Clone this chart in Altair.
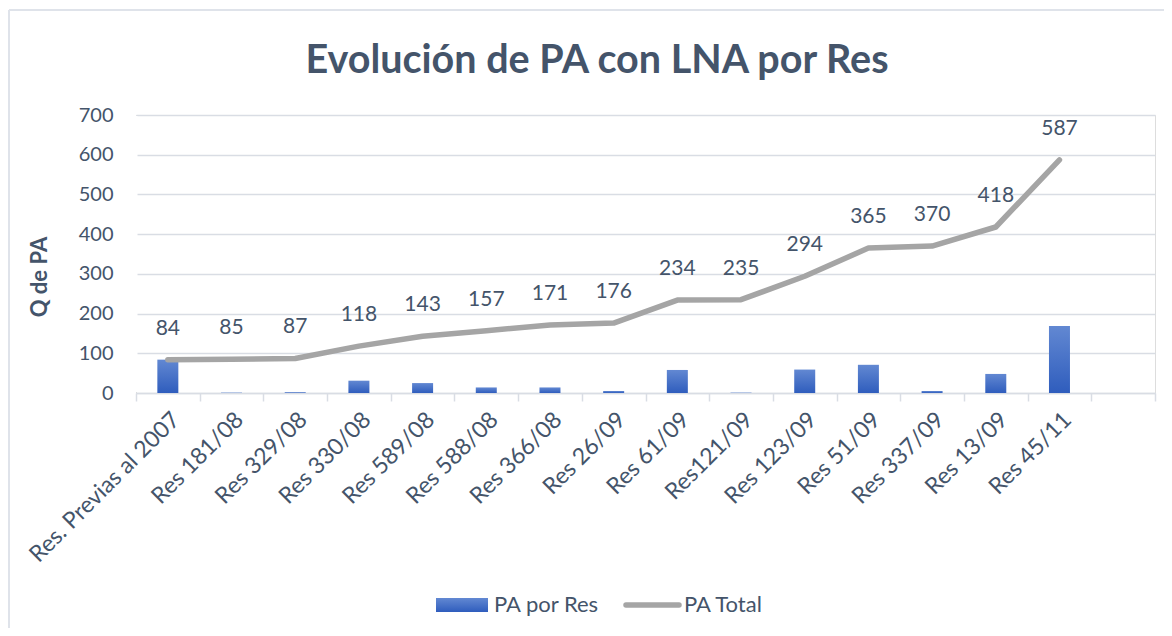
import altair as alt
import pandas as pd

categories = ["Res. Previas al 2007", "Res 181/08", "Res 329/08", "Res 330/08",
              "Res 589/08", "Res 588/08", "Res 366/08", "Res 26/09", "Res 61/09",
              "Res121/09", "Res 123/09", "Res 51/09", "Res 337/09", "Res 13/09",
              "Res 45/11"]
pa_por_res = [84, 1, 2, 31, 25, 14, 14, 5, 58, 1, 59, 71, 5, 48, 169]
pa_total = [84, 85, 87, 118, 143, 157, 171, 176, 234, 235, 294, 365, 370, 418, 587]
y_ticks = [0, 100, 200, 300, 400, 500, 600, 700]

df = pd.DataFrame({"cat": categories, "bar": pa_por_res, "total": pa_total})

TXT = "#44546A"
FONT = "Lato"
W, H = 1019, 278

xscale = alt.Scale(domain=categories + [""], paddingInner=0, paddingOuter=0)
yscale = alt.Scale(domain=[0, 700], nice=False)

xaxis = alt.Axis(labelAngle=-45, labelAlign="right", labelBaseline="top",
                 labelFontSize=23, labelColor=TXT, labelFont=FONT, labelLimit=0,
                 labelPadding=7, tickBand="extent", tickSize=8,
                 tickColor="#d9dde4", tickWidth=1.5, domainColor="#d9dde4",
                 domainWidth=1.5, grid=False, labelOverlap=False, title=None)
yaxis = alt.Axis(values=y_ticks, labelFontSize=20, labelColor=TXT, labelFont=FONT,
                 labelPadding=23, ticks=False, domain=False,
                 labelOverlap=False, gridColor="#d9dde4", gridWidth=1.5, title=None)

X = alt.X("cat:N", sort=None, scale=xscale, axis=xaxis)

grad = alt.Gradient(gradient="linear", x1=0, x2=0, y1=0, y2=1,
                    stops=[alt.GradientStop(color="#6288d2", offset=0),
                           alt.GradientStop(color="#2f5dbd", offset=1)])

one = pd.DataFrame({"k": [0]})

# white cover for the stray left edge line of the plot area
cover = alt.Chart(one).mark_rule(color="white", strokeWidth=3).encode(
    x=alt.value(0), y=alt.value(1), y2=alt.value(H - 1))

bars = alt.Chart(df).mark_bar(size=21, color=grad).encode(
    x=X, y=alt.Y("bar:Q", scale=yscale, axis=yaxis))

line = alt.Chart(df).mark_line(color="#a5a5a5", strokeWidth=5.5, strokeCap="round",
                               strokeJoin="round").encode(
    x=X, y=alt.Y("total:Q", scale=yscale, axis=yaxis))

labels = alt.Chart(df).mark_text(fontSize=21, color=TXT, font=FONT, dy=-31,
                                 baseline="middle").encode(
    x=X, y=alt.Y("total:Q", scale=yscale, axis=yaxis), text="total:Q")

title = alt.Chart(one).mark_text(text="Evolución de PA con LNA por Res", fontSize=39.5,
                                 fontWeight="bold", font=FONT, color=TXT,
                                 align="center", baseline="middle").encode(
    x=alt.value(461), y=alt.value(-54))
ytitle = alt.Chart(one).mark_text(text="Q de PA", fontSize=22, fontWeight="bold",
                                  font=FONT, color=TXT, angle=270,
                                  align="center", baseline="middle").encode(
    x=alt.value(-96), y=alt.value(162))

leg_rect = alt.Chart(one).mark_rect(color=grad).encode(
    x=alt.value(300), x2=alt.value(352), y=alt.value(483), y2=alt.value(497))
leg_text1 = alt.Chart(one).mark_text(text="PA por Res", align="left", baseline="middle",
                                     fontSize=22, color=TXT, font=FONT).encode(
    x=alt.value(358), y=alt.value(490))
leg_line = alt.Chart(one).mark_rule(color="#a5a5a5", strokeWidth=5.5, strokeCap="round").encode(
    x=alt.value(490), x2=alt.value(543), y=alt.value(490))
leg_text2 = alt.Chart(one).mark_text(text="PA Total", align="left", baseline="middle",
                                     fontSize=22, color=TXT, font=FONT).encode(
    x=alt.value(548), y=alt.value(490))

frame_top = alt.Chart(one).mark_rule(color="#dfe3ea", strokeWidth=2).encode(
    x=alt.value(-127), x2=alt.value(1040), y=alt.value(-105))
frame_left = alt.Chart(one).mark_rule(color="#dfe3ea", strokeWidth=2).encode(
    x=alt.value(-127), x2=alt.value(-127), y=alt.value(-105), y2=alt.value(530))

chart = alt.layer(cover, bars, line, labels, title, ytitle, leg_rect, leg_text1, leg_line,
                  leg_text2, frame_top, frame_left).properties(
    width=W, height=H,
    autosize=alt.AutoSizeParams(type="none"),
    padding={"left": 128, "top": 107, "right": 9, "bottom": 235},
).configure_view(stroke=None).configure_axisY(domain=False).configure_axisX(
    grid=False).configure(background="white")

chart.save("out.html", embed_options={"renderer": "svg", "actions": False})
